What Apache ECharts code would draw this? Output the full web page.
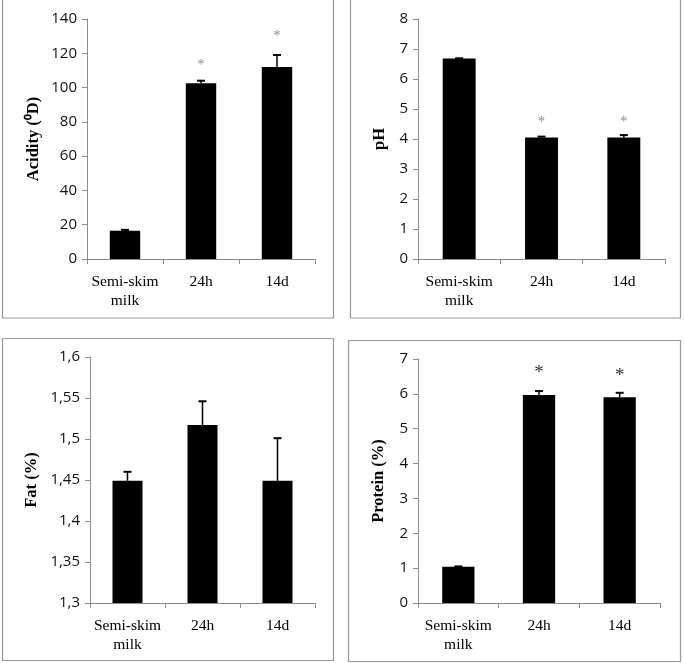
<!DOCTYPE html>
<html>
<head>
<meta charset="utf-8">
<script src="https://cdn.jsdelivr.net/npm/echarts@6/dist/echarts.min.js"></script>
<style>html,body{margin:0;padding:0;background:#fff}#c{width:684px;height:663px}</style>
</head>
<body>
<div id="c"></div>
<script>
const categories = ['Semi-skim\nmilk', '24h', '14d'];

const acidityMean = [16.5, 102.5, 112];
const acidityErrTop = [17, 104, 119];
const acidityStar = [null, 113, 130];
const acidityTicks = { min: 0, max: 140, interval: 20 };

const phMean = [6.68, 4.05, 4.05];
const phErrTop = [6.69, 4.08, 4.13];
const phStar = [null, 4.54, 4.54];
const phTicks = { min: 0, max: 8, interval: 1 };

const fatMean = [1.449, 1.517, 1.449];
const fatErrTop = [1.46, 1.546, 1.501];
const fatStar = [null, null, null];
const fatTicks = { min: 1.3, max: 1.6, interval: 0.05 };

const proteinMean = [1.04, 5.97, 5.9];
const proteinErrTop = [1.05, 6.08, 6.03];
const proteinStar = [null, 6.59, 6.52];
const proteinTicks = { min: 0, max: 7, interval: 1 };

const panels = [
  { name: 'Acidity (⁰D)', mean: acidityMean, err: acidityErrTop, star: acidityStar, ticks: acidityTicks,
    grid: { left: 87, right: 369, top: 19, bottom: 404 }, nameGap: 45, starStyle: { size: 14, color: '#888' }, comma: false },
  { name: 'pH', mean: phMean, err: phErrTop, star: phStar, ticks: phTicks,
    grid: { left: 418, right: 19, top: 19, bottom: 404 }, nameGap: 30, starStyle: { size: 14, color: '#888' }, comma: false },
  { name: 'Fat (%)', mean: fatMean, err: fatErrTop, star: fatStar, ticks: fatTicks,
    grid: { left: 90, right: 369, top: 357, bottom: 60 }, nameGap: 50, starStyle: { size: 14, color: '#888' }, comma: true },
  { name: 'Protein (%)', mean: proteinMean, err: proteinErrTop, star: proteinStar, ticks: proteinTicks,
    grid: { left: 418, right: 24, top: 359, bottom: 60 }, nameGap: 31, starStyle: { size: 19, color: '#333' }, comma: false }
];

const axisColor = '#8c8c8c';
const grids = [], xAxes = [], yAxes = [], series = [];

panels.forEach((p, i) => {
  grids.push(Object.assign({ containLabel: false }, p.grid));
  xAxes.push({
    type: 'category', gridIndex: i, data: categories,
    axisLine: { lineStyle: { color: axisColor, width: 1 } },
    axisTick: { show: true, alignWithLabel: false, length: 5, lineStyle: { color: axisColor } },
    axisLabel: { fontFamily: 'Liberation Serif', fontSize: 15.5, color: '#000', margin: 13, lineHeight: 19, interval: 0 }
  });
  yAxes.push({
    type: 'value', gridIndex: i, min: p.ticks.min, max: p.ticks.max, interval: p.ticks.interval,
    name: p.name, nameLocation: 'middle', nameGap: p.nameGap, nameRotate: 90,
    nameTextStyle: { fontFamily: 'Liberation Serif', fontWeight: 'bold', fontSize: 16.5, color: '#000' },
    axisLine: { show: true, lineStyle: { color: axisColor, width: 1 } },
    axisTick: { show: true, length: 5, lineStyle: { color: axisColor } },
    splitLine: { show: false },
    axisLabel: {
      fontFamily: 'Open Sans', fontSize: 15, color: '#111', margin: 10,
      formatter: v => {
        let s = String(Math.round(v * 1000) / 1000);
        return p.comma ? s.replace('.', ',') : s;
      }
    }
  });
  series.push({
    type: 'bar', xAxisIndex: i, yAxisIndex: i, data: p.mean, barWidth: '40%',
    itemStyle: { color: '#000' }, silent: true
  });
  series.push({
    type: 'custom', xAxisIndex: i, yAxisIndex: i, silent: true, z: 5,
    data: p.mean.map((m, k) => [k, m, p.err[k]]),
    renderItem: (params, api) => {
      const x = api.coord([api.value(0), api.value(1)]);
      const top = api.coord([api.value(0), api.value(2)]);
      const h = 4;
      return {
        type: 'group', children: [
          { type: 'line', shape: { x1: x[0], y1: x[1], x2: top[0], y2: top[1] }, style: { stroke: '#000', lineWidth: 1.5 } },
          { type: 'line', shape: { x1: top[0] - h, y1: top[1], x2: top[0] + h, y2: top[1] }, style: { stroke: '#000', lineWidth: 2 } }
        ]
      };
    }
  });
  series.push({
    type: 'custom', xAxisIndex: i, yAxisIndex: i, silent: true, z: 6,
    data: p.star.map((s, k) => s == null ? null : [k, s]).filter(d => d),
    renderItem: (params, api) => {
      const c = api.coord([api.value(0), api.value(1)]);
      return {
        type: 'text', x: c[0], y: c[1],
        style: { text: '*', fill: p.starStyle.color, fontSize: p.starStyle.size, fontFamily: 'Liberation Serif', align: 'center', verticalAlign: 'middle' }
      };
    }
  });
});

const border = { stroke: '#999', lineWidth: 1.2, fill: 'none' };
const chart = echarts.init(document.getElementById('c'), null, { renderer: 'canvas' });
chart.setOption({
  animation: false,
  backgroundColor: '#fff',
  grid: grids, xAxis: xAxes, yAxis: yAxes, series: series,
  graphic: [
    { type: 'rect', shape: { x: 2.5, y: -2, width: 331, height: 320 }, style: border, silent: true },
    { type: 'rect', shape: { x: 350.5, y: -2, width: 330, height: 320 }, style: border, silent: true },
    { type: 'rect', shape: { x: 2.5, y: 338.5, width: 331, height: 322 }, style: border, silent: true },
    { type: 'rect', shape: { x: 348.5, y: 340.5, width: 332, height: 321 }, style: border, silent: true }
  ]
});
</script>
</body>
</html>
